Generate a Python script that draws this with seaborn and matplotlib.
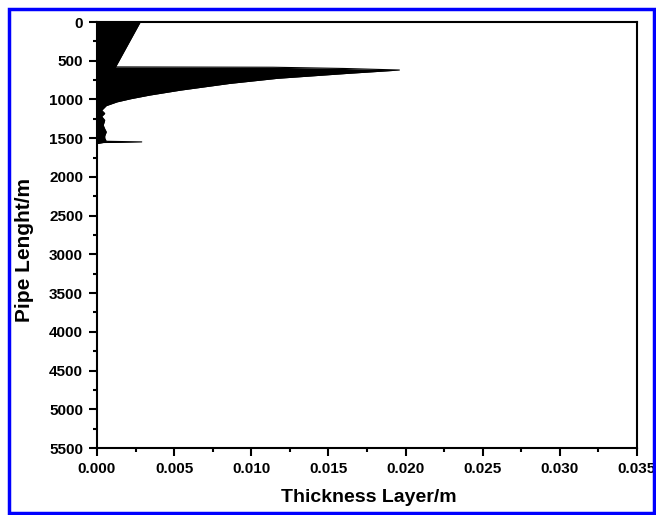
import numpy as np
import pandas as pd
import matplotlib
matplotlib.use("Agg")
import matplotlib.pyplot as plt
from matplotlib.patches import Rectangle
from matplotlib.ticker import MultipleLocator
import seaborn as sns

# Deposit thickness profile along the pipe
depth = [0, 580, 584, 600, 620, 664, 727, 793, 880, 944, 990, 1031, 1080, 1140,
         1180, 1220, 1268, 1332, 1380, 1419, 1470, 1500, 1540, 1548, 1556, 1570]
thickness = [0.0028, 0.0012, 0.0114, 0.0160, 0.0196, 0.0162, 0.0117, 0.0086,
             0.0054, 0.0034, 0.0022, 0.0013, 0.0006, 0.0003, 0.0005, 0.0003,
             0.0005, 0.0004, 0.0005, 0.0006, 0.0005, 0.0005, 0.0006, 0.0029,
             0.0004, 0.0]

x_ticks = [0.000, 0.005, 0.010, 0.015, 0.020, 0.025, 0.030, 0.035]
y_ticks = list(range(0, 5501, 500))

df = pd.DataFrame({"depth": depth, "thickness": thickness})

sns.set_theme(style="ticks")
plt.rcParams["font.family"] = ["Liberation Sans", "DejaVu Sans"]
plt.rcParams["font.weight"] = "bold"
plt.rcParams["text.color"] = "black"
plt.rcParams["axes.labelcolor"] = "black"
plt.rcParams["xtick.color"] = "black"
plt.rcParams["ytick.color"] = "black"

fig = plt.figure(figsize=(6.56, 5.15), dpi=100)
ax = fig.add_axes([97/656, 1-448/515, 540/656, 426/515])

sns.lineplot(data=df, x="thickness", y="depth", orient="y", sort=False,
             color="black", linewidth=0.8, ax=ax, estimator=None)
ax.fill_betweenx(df["depth"], 0, df["thickness"], color="black", linewidth=0)

ax.set_xlim(0, 0.035)
ax.set_ylim(5500, 0)
ax.set_xticks(x_ticks)
ax.set_xticklabels([f"{v:.3f}" for v in x_ticks], fontsize=11, fontweight="bold", color="black")
ax.set_yticks(y_ticks)
ax.set_yticklabels([str(v) for v in y_ticks], fontsize=11, fontweight="bold", color="black")
ax.xaxis.set_minor_locator(MultipleLocator(0.0025))
ax.yaxis.set_minor_locator(MultipleLocator(250))
ax.tick_params(which="major", direction="out", length=6, width=1.5, colors="black", pad=4)
ax.tick_params(which="minor", direction="out", length=3, width=1.5, colors="black")
for s in ax.spines.values():
    s.set_linewidth(1.5)
    s.set_color("black")

ax.set_xlabel("Thickness Layer/m", fontsize=14, fontweight="bold", color="black")
ax.set_ylabel("Pipe Lenght/m", fontsize=15, fontweight="bold", color="black")
ax.xaxis.set_label_coords(0.504, -0.096)
ax.yaxis.set_label_coords(-0.117, 0.465)

fig.patches.append(Rectangle((9/656, 2/515), 645/656, 504/515, transform=fig.transFigure,
                             fill=False, edgecolor="#0000ff", linewidth=2.5, zorder=10))

fig.savefig("out.png", dpi=100)
